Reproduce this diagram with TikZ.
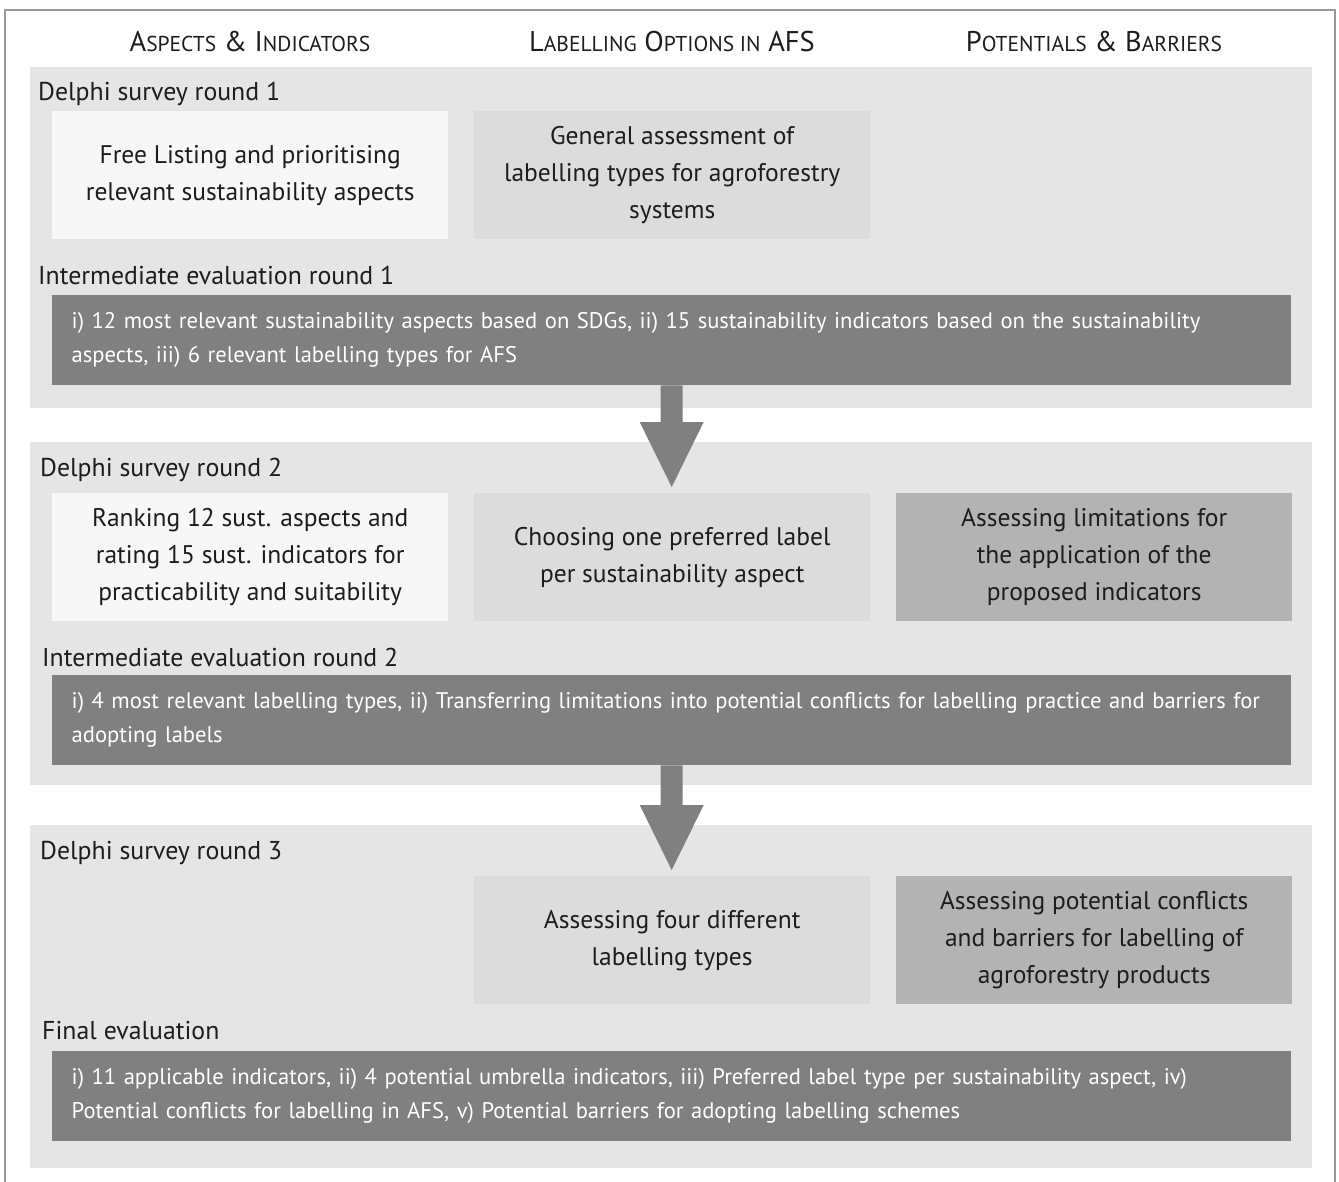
\documentclass[tikz,border=0pt]{standalone}
\usepackage{fontspec}
\setmainfont{PT Sans}
\usepackage{tikz}
\usetikzlibrary{calc}
\definecolor{framedraw}{HTML}{9A9A9A}
\definecolor{panelfill}{HTML}{E5E5E5}
\definecolor{lightfill}{HTML}{F7F7F7}
\definecolor{midfill}{HTML}{DCDCDC}
\definecolor{darkfill}{HTML}{B3B3B3}
\definecolor{barfill}{HTML}{808080}
\definecolor{textcolor}{HTML}{1E1C1D}
\newcommand{\smallcaps}[1]{{\fontsize{21.5}{21.5}\selectfont #1}}
\tikzset{
  column title/.style={
    anchor=base,
    inner sep=0pt,
    text=textcolor,
    font=\fontsize{28.5}{30}\selectfont
  },
  section panel/.style={
    anchor=north west,
    fill=panelfill,
    inner sep=0pt,
    minimum width=1282pt
  },
  round title/.style={
    anchor=base west,
    inner sep=0pt,
    text=textcolor,
    font=\fontsize{25.8}{30}\selectfont
  },
  task box/.style={
    anchor=north west,
    minimum width=396pt,
    minimum height=128pt,
    inner sep=0pt,
    align=center,
    text=textcolor,
    font=\fontsize{25.5}{37}\selectfont
  },
  light task/.style={task box, fill=lightfill},
  mid task/.style={task box, fill=midfill},
  dark task/.style={task box, fill=darkfill},
  result bar/.style={
    anchor=north west,
    fill=barfill,
    text=white,
    minimum width=1239pt,
    minimum height=90pt,
    inner xsep=19pt,
    inner ysep=0pt,
    text width=1200pt,
    align=left,
    font=\fontsize{22.6}{34}\selectfont
  }
}
\newcommand{\blockarrow}[2]{%
  \fill[barfill] let \p1=(#1.south), \p2=(#2.north) in
    (\x1-11,\y1) -- (\x1+11,\y1) -- (\x1+11,\y2+71) -- (\x1+32,\y2+71)
    -- (\x1,\y2+6) -- (\x1-32,\y2+71) -- (\x1-11,\y2+71) -- cycle;
}

\begin{document}
\begin{tikzpicture}[x=1pt,y=-1pt]
  \useasboundingbox (0,0) rectangle (1339,1182);
  \draw[framedraw, line width=1.3pt] (5,1200) -- (5,10) -- (1335,10) -- (1335,1200);

  % column headings
  \node[column title] (T-1) at (250,52) {A\smallcaps{SPECTS} \& I\smallcaps{NDICATORS}};
  \node[column title] (T-2) at (672,52) {L\smallcaps{ABELLING} O\smallcaps{PTIONS IN} AFS};
  \node[column title] (T-3) at (1094,52) {P\smallcaps{OTENTIALS} \& B\smallcaps{ARRIERS}};

  % panels
  \node[section panel, minimum height=341pt] (P-1) at (30,67) {};
  \node[section panel, minimum height=343pt] (P-2) at (30,442) {};
  \node[section panel, minimum height=343pt] (P-3) at (30,825) {};

  % round 1
  \node[round title] (R-1) at (38,101) {Delphi survey round 1};
  \node[light task] (A-1) at (52,111) {Free Listing and prioritising\\relevant sustainability aspects};
  \node[mid task] (B-1) at (474,111) {General assessment of\\labelling types for agroforestry\\systems};
  \node[round title] (E-1) at (38,285) {Intermediate evaluation round 1};
  \node[result bar] (S-1) at (52,295)
    {i) 12 most relevant sustainability aspects based on SDGs, ii) 15 sustainability indicators based on the sustainability\\
     aspects, iii) 6 relevant labelling types for AFS};

  % round 2
  \node[round title] (R-2) at (40,476) {Delphi survey round 2};
  \node[light task] (A-2) at (52,493) {Ranking 12 sust. aspects and\\rating 15 sust. indicators for\\practicability and suitability};
  \node[mid task] (B-2) at (474,493) {Choosing one preferred label\\per sustainability aspect};
  \node[dark task] (C-2) at (896,493) {Assessing limitations for\\the application of the\\proposed indicators};
  \node[round title] (E-2) at (42,666) {Intermediate evaluation round 2};
  \node[result bar] (S-2) at (52,675)
    {i) 4 most relevant labelling types, ii) Transferring limitations into potential conflicts for labelling practice and barriers for\\
     adopting labels};

  % round 3
  \node[round title] (R-3) at (40,859) {Delphi survey round 3};
  \node[mid task] (B-3) at (474,876) {Assessing four different\\labelling types};
  \node[dark task] (C-3) at (896,876) {Assessing potential conflicts\\and barriers for labelling of\\agroforestry products};
  \node[round title] (E-3) at (42,1039) {Final evaluation};
  \node[result bar] (S-3) at (52,1051)
    {i) 11 applicable indicators, ii) 4 potential umbrella indicators, iii) Preferred label type per sustainability aspect, iv)\\
     Potential conflicts for labelling in AFS, v) Potential barriers for adopting labelling schemes};

  \blockarrow{S-1}{B-2}
  \blockarrow{S-2}{B-3}
\end{tikzpicture}
\end{document}
